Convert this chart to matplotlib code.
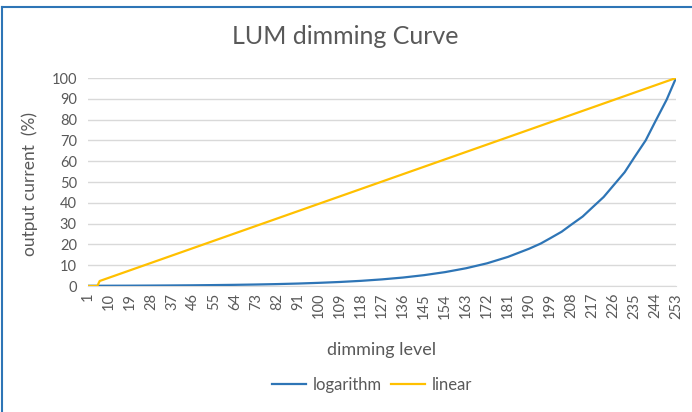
import matplotlib
matplotlib.use("Agg")
import matplotlib.pyplot as plt
from matplotlib.lines import Line2D

# dimming levels shown on the category axis
levels = list(range(1, 254, 9))

# logarithm curve (%), with extra readings on the steep part
log_levels = [1, 10, 19, 28, 37, 46, 55, 64, 73, 82, 91, 100, 109, 118, 127,
              136, 145, 154, 163, 172, 181, 190, 195, 199, 204, 208, 213, 217,
              222, 226, 231, 235, 240, 244, 249, 253]
log_values = [0.10, 0.13, 0.16, 0.21, 0.27, 0.34, 0.44, 0.56, 0.72, 0.92,
              1.18, 1.52, 1.94, 2.48, 3.18, 4.07, 5.21, 6.67, 8.53, 10.9,
              14.0, 17.9, 20.4, 22.9, 26.1, 29.4, 33.4, 37.6, 42.8, 48.1,
              54.7, 61.6, 70.0, 78.8, 89.6, 100.0]

# linear curve: flat at zero for the first few levels, then straight to 100
linear_levels = [1, 5, 6, 253]
linear_values = [0.0, 0.0, 2.4, 100.0]

title = "LUM dimming Curve"
x_label = "dimming level"
y_label = "output current  (%)"

plt.rcParams['font.family'] = ['Lato', 'DejaVu Sans']
text_col = "#595959"
grid_col = "#d9d9d9"
blue = "#2e75b6"
yellow = "#ffc000"

fig = plt.figure(figsize=(6.92, 4.12), dpi=100)
ax = fig.add_axes([88 / 692, 1 - 286 / 412, (676 - 88) / 692, (286 - 78) / 412])

ax.plot(log_levels, log_values, color=blue, lw=1.6, label="logarithm",
        zorder=3, solid_joinstyle="round")
ax.plot(linear_levels, linear_values, color=yellow, lw=1.6, label="linear", zorder=3)

ax.set_xlim(1, 253)
ax.set_ylim(0, 100)
ax.set_yticks(range(0, 101, 10))
ax.set_xticks(levels)
ax.set_xticklabels([str(v) for v in levels], rotation=90)
ax.tick_params(axis="both", length=0, colors=text_col, labelsize=10.5)
ax.tick_params(axis="x", pad=5)
ax.tick_params(axis="y", pad=8)
ax.grid(axis="y", color=grid_col, lw=1)
ax.set_axisbelow(True)
for s in ["top", "right", "left"]:
    ax.spines[s].set_visible(False)
ax.spines["bottom"].set_color(grid_col)

fig.text(345 / 692, 1 - 37 / 412, title, ha="center", va="center",
         fontsize=18, color=text_col)
fig.text(382 / 692, 1 - 350 / 412, x_label, ha="center", va="center",
         fontsize=13, color=text_col)
fig.text(30 / 692, 1 - 184 / 412, y_label, ha="center", va="center",
         rotation=90, fontsize=12.5, color=text_col)

fig.legend(loc="center", bbox_to_anchor=(372 / 692, 1 - 385 / 412), ncol=2,
           frameon=False, fontsize=12, labelcolor=text_col,
           handlelength=2.0, columnspacing=0.6, handletextpad=0.4)

# blue frame visible at top and left edge
fig.add_artist(Line2D([2 / 692, 1], [1 - 7 / 412, 1 - 7 / 412],
                      transform=fig.transFigure, color=blue, lw=1.5))
fig.add_artist(Line2D([2 / 692, 2 / 692], [0, 1 - 7 / 412],
                      transform=fig.transFigure, color=blue, lw=1.5))

fig.savefig("out.png", dpi=100)
